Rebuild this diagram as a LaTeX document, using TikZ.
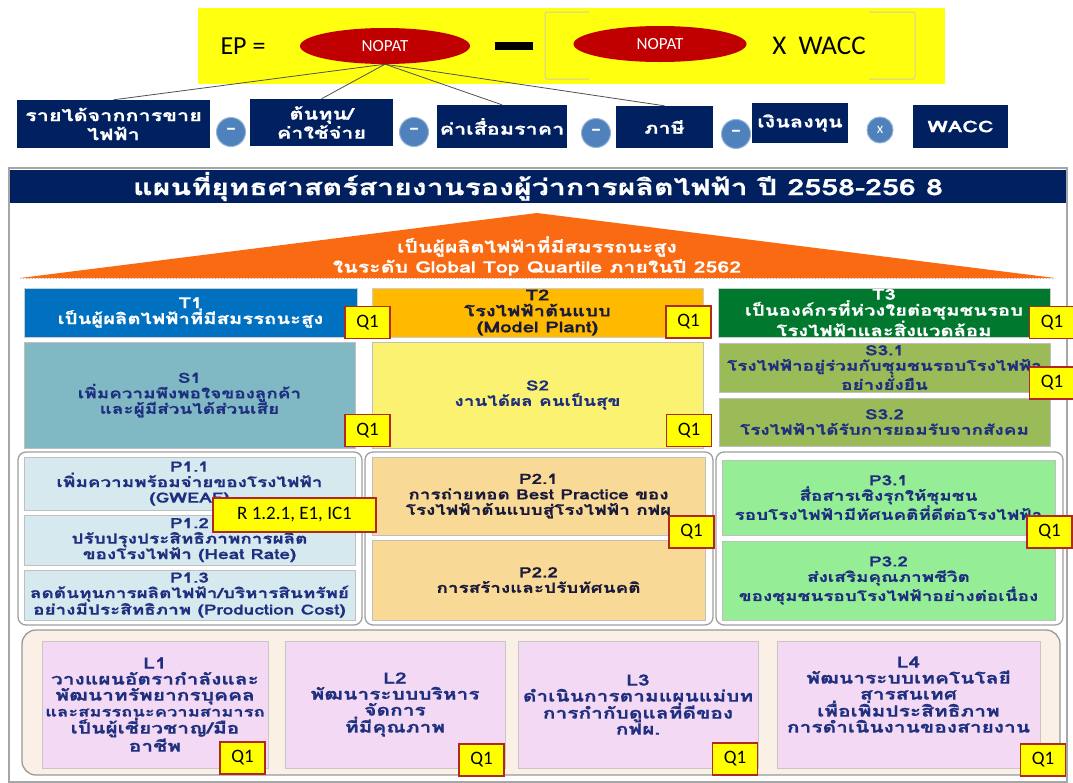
\documentclass[tikz,border=0pt]{standalone}
\usepackage{fontspec}
\setmainfont{Loma}[Script=Thai]
\newfontfamily\thai[Script=Thai, FakeStretch=1.35, BoldFeatures={FakeBold=0.6}]{Loma}
\newfontfamily\calib{Carlito}
\usetikzlibrary{shapes.geometric}

\definecolor{navy}{HTML}{002060}
\definecolor{opblue}{HTML}{4F81BD}
\definecolor{ovalred}{HTML}{C00000}
\definecolor{linegray}{HTML}{505050}
\definecolor{brk}{HTML}{D8CFA0}
\definecolor{topyellow}{HTML}{FFFF10}
\definecolor{triorange}{HTML}{FA6A12}
\definecolor{tblue}{HTML}{0070C0}
\definecolor{tgold}{HTML}{FFBA00}
\definecolor{tgreen}{HTML}{00782E}
\definecolor{steal}{HTML}{80B8C4}
\definecolor{syellow}{HTML}{FAF270}
\definecolor{solive}{HTML}{9BBB59}
\definecolor{pblue}{HTML}{D6E9EE}
\definecolor{porange}{HTML}{F9D996}
\definecolor{pgreen}{HTML}{95EE95}
\definecolor{lback}{HTML}{FAF0E6}
\definecolor{lpink}{HTML}{F3D9F3}
\definecolor{textnavy}{HTML}{1F2F80}
\definecolor{textdark}{HTML}{1A1A3A}
\definecolor{badgeyellow}{HTML}{FFFF00}
\definecolor{badgered}{HTML}{B0281E}

\tikzset{
  navybox/.style={rectangle, fill=navy, text=white, inner sep=0pt, align=center,
    font=\thai\bfseries\fontsize{16}{19}\selectfont},
  opcircle/.style={circle, fill=opblue, draw=opblue!60!white, line width=1pt,
    minimum size=29pt, inner sep=0pt, text=white, font=\calib\bfseries\fontsize{22}{22}\selectfont},
  redoval/.style={ellipse, fill=ovalred, inner sep=0pt, text=white,
    font=\calib\fontsize{17}{17}\selectfont},
  link/.style={draw=linegray, line width=0.8pt},
  headbox/.style={rectangle, inner sep=0pt, align=center, draw=gray!40,
    font=\thai\bfseries\fontsize{15}{16}\selectfont},
  stratbox/.style={rectangle, inner sep=0pt, align=center, draw=gray!50, text=textnavy,
    font=\thai\bfseries\fontsize{14}{15.5}\selectfont},
  groupbox/.style={rectangle, rounded corners=8pt, draw=gray!75, line width=1.3pt, fill=white},
  learnbox/.style={rectangle, inner sep=0pt, align=center, fill=lpink, draw=gray!45, line width=1pt,
    text=textnavy, font=\thai\bfseries\fontsize{15.5}{16}\selectfont},
  qbadge/.style={rectangle, fill=badgeyellow, draw=badgered, line width=1.3pt,
    minimum width=45pt, minimum height=32pt, inner sep=0pt, font=\calib\fontsize{19}{19}\selectfont},
}

\begin{document}
\begin{tikzpicture}[x=1pt,y=-1pt]
\useasboundingbox (0,0) rectangle (1073,782);
\fill[white] (0,0) rectangle (1073,782);

% ---------- EP formula ----------
\node[rectangle, fill=topyellow, minimum width=747pt, minimum height=76pt, inner sep=0pt] (formula) at (571.5,46) {};
\node[font=\calib\fontsize{26}{26}\selectfont] (ep) at (243,46) {EP =};
\node[redoval, minimum width=170pt, minimum height=36pt] (nopat1) at (385,46) {NOPAT};
\node[rectangle, fill=black, minimum width=38pt, minimum height=8pt, inner sep=0pt] (minus) at (514,46) {};
\draw[brk, line width=1pt, rounded corners=2pt] (589,12) -- (545,12) -- (545,79) -- (589,79);
\draw[brk, line width=1pt, rounded corners=2pt] (869,12) -- (915,12) -- (915,79) -- (869,79);
\node[redoval, minimum width=173pt, minimum height=36pt] (nopat2) at (660,44) {NOPAT};
\node[font=\calib\fontsize{27}{27}\selectfont] (xwacc) at (819,46) {X\ \ WACC};

% ---------- components ----------
\node[navybox, minimum width=193pt, minimum height=48pt] (b1) at (113.5,124) {รายได้จากการขาย\\ไฟฟ้า};
\node[opcircle] (m1) at (231,132) {–};
\node[navybox, minimum width=143pt, minimum height=47pt] (b2) at (321.5,122.5) {ต้นทุน/\\ค่าใช้จ่าย};
\node[opcircle] (m2) at (414,132) {–};
\node[navybox, minimum width=130pt, minimum height=43pt] (b3) at (502,126.5) {ค่าเสื่อมราคา};
\node[opcircle] (m3) at (596,133) {–};
\node[navybox, minimum width=97pt, minimum height=42pt] (b4) at (664.5,127) {ภาษี};
\node[opcircle] (m4) at (736,134) {–};
\node[navybox, minimum width=96pt, minimum height=40pt] (b5) at (800,123) {เงินลงทุน};
\node[opcircle, minimum size=26pt, font=\calib\fontsize{15}{15}\selectfont] (xc) at (880,130) {x};
\node[navybox, minimum width=95pt, minimum height=43pt] (b6) at (960.5,126.5) {WACC};

\draw[link] (nopat1.south) -- (b1.north);
\draw[link] (nopat1.south) -- (b2.north);
\draw[link] (nopat1.south) -- (b3.north);
\draw[link] (nopat1.south) -- (b4.north);

% ---------- strategy map frame ----------
\node[rectangle, draw=gray!70, line width=2pt, fill=white, minimum width=1058pt, minimum height=614pt, inner sep=0pt] (frame) at (538,475) {};
\node[rectangle, fill=navy, text=white, minimum width=1056pt, minimum height=33pt, inner sep=0pt,
  font=\thai\bfseries\fontsize{22.5}{22.5}\selectfont] (title) at (538,186.5)
  {แผนที่ยุทธศาสตร์สายงานรองผู้ว่าการผลิตไฟฟ้า ปี 2558-256 8};

% vision triangle
\coordinate (apex) at (537,213);
\coordinate (baseL) at (20,278);
\coordinate (baseR) at (1055,278);
\fill[triorange] (apex) -- (baseR) -- (baseL) -- cycle;
\draw[gray!60, dotted, line width=1pt] (baseL) -- (baseR);
\node[text=white, align=center, font=\thai\bfseries\fontsize{15.8}{20}\selectfont] (vision) at (537,256)
  {เป็นผู้ผลิตไฟฟ้าที่มีสมรรถนะสูง\\ในระดับ Global Top Quartile ภายในปี 2562};

% themes
\node[headbox, fill=tblue, text=white, minimum width=333pt, minimum height=49pt] (t1) at (190.5,312.5)
  {T1\\เป็นผู้ผลิตไฟฟ้าที่มีสมรรถนะสูง};
\node[headbox, fill=tgold, text=textdark, minimum width=331pt, minimum height=49pt] (t2) at (537.5,312.5)
  {T2\\โรงไฟฟ้าต้นแบบ\\(Model Plant)};
\node[headbox, fill=tgreen, text=white, minimum width=332pt, minimum height=49pt] (t3) at (884,312.5)
  {T3\\เป็นองค์กรที่ห่วงใยต่อชุมชนรอบ\\โรงไฟฟ้าและสิ่งแวดล้อม};

% strategies
\node[stratbox, fill=steal, minimum width=331pt, minimum height=106pt] (s1) at (189.5,395)
  {S1\\เพิ่มความพึงพอใจของลูกค้า\\และผู้มีส่วนได้ส่วนเสีย};
\node[stratbox, fill=syellow, minimum width=331pt, minimum height=106pt] (s2) at (537.5,395)
  {S2\\งานได้ผล คนเป็นสุข};
\node[stratbox, fill=solive, minimum width=331pt, minimum height=49pt] (s31) at (884.5,367.5)
  {S3.1\\โรงไฟฟ้าอยู่ร่วมกับชุมชนรอบโรงไฟฟ้า\\อย่างยั่งยืน};
\node[stratbox, fill=solive, minimum width=331pt, minimum height=48pt] (s32) at (884.5,422)
  {S3.2\\โรงไฟฟ้าได้รับการยอมรับจากสังคม};

% processes
\node[groupbox, minimum width=344pt, minimum height=173pt] (g1) at (190,538.5) {};
\node[groupbox, minimum width=348pt, minimum height=173pt] (g2) at (539,538.5) {};
\node[groupbox, minimum width=347pt, minimum height=173pt] (g3) at (889.5,538.5) {};
\node[stratbox, fill=pblue, minimum width=331pt, minimum height=53pt] (p11) at (189.5,483.5)
  {P1.1\\เพิ่มความพร้อมจ่ายของโรงไฟฟ้า\\(GWEAF)};
\node[stratbox, fill=pblue, minimum width=331pt, minimum height=50pt] (p12) at (189.5,540)
  {P1.2\\ปรับปรุงประสิทธิภาพการผลิต\\ของโรงไฟฟ้า (Heat Rate)};
\node[stratbox, fill=pblue, minimum width=331pt, minimum height=50pt] (p13) at (189.5,595)
  {P1.3\\ลดต้นทุนการผลิตไฟฟ้า/บริหารสินทรัพย์\\อย่างมีประสิทธิภาพ (Production Cost)};
\node[stratbox, fill=porange, text=textdark, minimum width=333pt, minimum height=78pt] (p21) at (538.5,496)
  {P2.1\\การถ่ายทอด Best Practice ของ\\โรงไฟฟ้าต้นแบบสู่โรงไฟฟ้า กฟผ};
\node[stratbox, fill=porange, text=textdark, minimum width=333pt, minimum height=80pt] (p22) at (538.5,580)
  {P2.2\\การสร้างและปรับทัศนคติ};
\node[stratbox, fill=pgreen, minimum width=333pt, minimum height=75pt] (p31) at (888.5,497.5)
  {P3.1\\สื่อสารเชิงรุกให้ชุมชน\\รอบโรงไฟฟ้ามีทัศนคติที่ดีต่อโรงไฟฟ้า};
\node[stratbox, fill=pgreen, minimum width=333pt, minimum height=79pt] (p32) at (888.5,580.5)
  {P3.2\\ส่งเสริมคุณภาพชีวิต\\ของชุมชนรอบโรงไฟฟ้าอย่างต่อเนื่อง};

% learning and growth
\node[rectangle, rounded corners=14pt, draw=gray!80, line width=1.3pt, fill=lback, minimum width=1038pt, minimum height=145pt] (lg) at (541,702.5) {};
\node[learnbox, minimum width=226pt, minimum height=127pt] (l1) at (155,704.5)
  {L1\\วางแผนอัตรากำลังและ\\พัฒนาทรัพยากรบุคคล\\{\fontsize{13.6}{16}\selectfont และสมรรถนะความสามารถ}\\เป็นผู้เชี่ยวชาญ/มือ\\อาชีพ};
\node[learnbox, minimum width=220pt, minimum height=127pt] (l2) at (395,704.5)
  {L2\\พัฒนาระบบบริหาร\\จัดการ\\ที่มีคุณภาพ};
\node[learnbox, minimum width=240pt, minimum height=127pt] (l3) at (638,704.5)
  {L3\\ดำเนินการตามแผนแม่บท\\การกำกับดูแลที่ดีของ\\กฟผ.};
\node[learnbox, minimum width=263pt, minimum height=127pt] (l4) at (908.5,704.5)
  {L4\\พัฒนาระบบเทคโนโลยี\\สารสนเทศ\\เพื่อเพิ่มประสิทธิภาพ\\การดำเนินงานของสายงาน\\[4pt]};

% indicator badges
\node[qbadge] (qt1) at (367.5,322.5) {Q1};
\node[qbadge] (qt2) at (688.5,322) {Q1};
\node[qbadge] (qt3) at (1052,322.5) {Q1};
\node[qbadge] (qs1) at (367.5,430.5) {Q1};
\node[qbadge] (qs2) at (689,430.5) {Q1};
\node[qbadge] (qs31) at (1052,383) {Q1};
\node[qbadge] (qp21) at (691.5,532) {Q1};
\node[qbadge] (qp31) at (1049.5,532) {Q1};
\node[qbadge, minimum width=163pt, minimum height=34pt] (rp1) at (294.5,515) {R 1.2.1, E1, IC1};
\node[qbadge] (ql1) at (242.5,758) {Q1};
\node[qbadge] (ql2) at (481.5,760) {Q1};
\node[qbadge] (ql3) at (735,759) {Q1};
\node[qbadge] (ql4) at (1043,760) {Q1};
\end{tikzpicture}
\end{document}
